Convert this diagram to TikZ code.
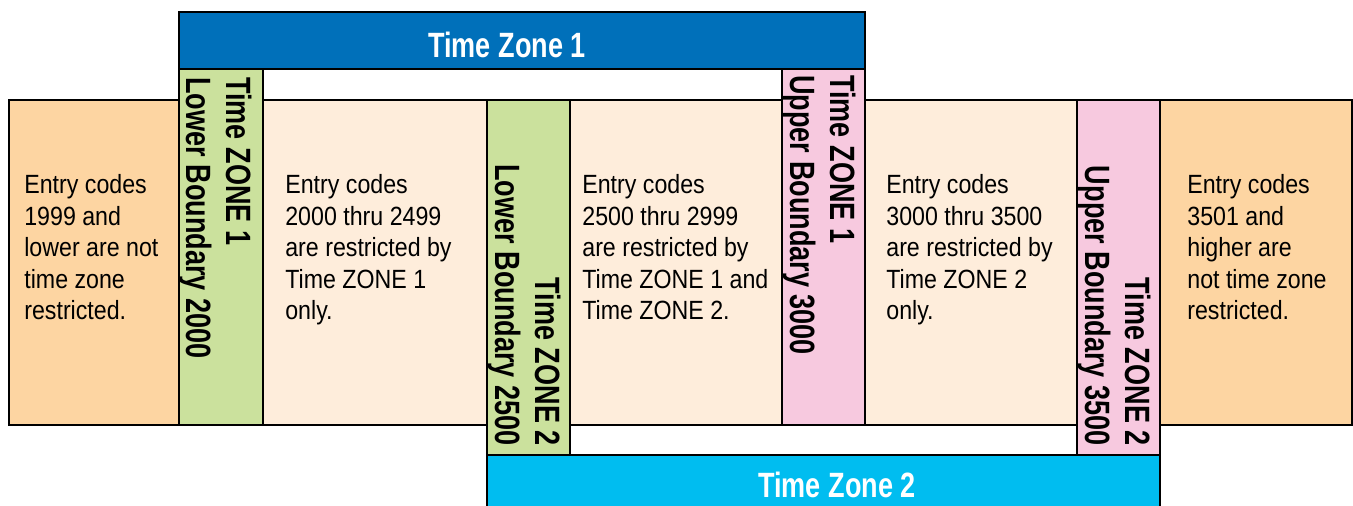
\documentclass[tikz,border=0pt]{standalone}
\usepackage{fontspec}
\setmainfont{Liberation Sans}[FakeStretch=0.88]
\newfontfamily\zonefont{Liberation Sans}[FakeStretch=0.77]
\usetikzlibrary{positioning}

\definecolor{zoneblue}{HTML}{0070BA}
\definecolor{zonecyan}{HTML}{00BDF0}
\definecolor{lowgreen}{HTML}{CBE19D}
\definecolor{uppink}{HTML}{F7C9DF}
\definecolor{outorange}{HTML}{FDD5A2}
\definecolor{inpeach}{HTML}{FEEDDB}

\tikzset{
  box/.style={draw=black, line width=1.5pt},
  entrytext/.style={inner sep=0pt, anchor=north west, align=left, font=\fontsize{15}{18}\selectfont},
  boundtext/.style={inner sep=0pt, rotate=-90, font=\zonefont\bfseries\fontsize{20}{22.5}\selectfont},
  zonetitle/.style={inner sep=0pt, anchor=base, text=white, font=\zonefont\bfseries\fontsize{20}{24}\selectfont}
}

\begin{document}
\begin{tikzpicture}[x=0.02cm, y=-0.02cm]
    \useasboundingbox (0,0) rectangle (1353,506);
    % Time Zone 1 bar
    \draw[box, fill=zoneblue] (179,12) rectangle (865,69);
    % outer boxes (not restricted)
    \draw[box, fill=outorange] (9,100) rectangle (179,425);
    \draw[box, fill=outorange] (1160,100) rectangle (1352,425);
    % inner boxes
    \draw[box, fill=inpeach] (263,100) rectangle (487,425);
    \draw[box, fill=inpeach] (570,100) rectangle (782,425);
    \draw[box, fill=inpeach] (865,100) rectangle (1077,425);
    % boundary columns
    \draw[box, fill=lowgreen] (179,69) rectangle (263,425);
    \draw[box, fill=uppink] (782,69) rectangle (865,425);
    \draw[box, fill=lowgreen] (487,100) rectangle (570,455);
    \draw[box, fill=uppink] (1077,100) rectangle (1160,455);
    % Time Zone 2 bar
    \draw[box, fill=zonecyan] (487,455) rectangle (1160,520);

    % titles
    \node[zonetitle] (zoneone) at (507,58) {Time Zone 1};
    \node[zonetitle] (zonetwo) at (837,498) {Time Zone 2};

    % boundary labels
    \node[boundtext, anchor=north west, align=left] (lowone) at (252,77) {Time ZONE 1\\Lower Boundary 2000};
    \node[boundtext, anchor=north west, align=left] (upone) at (856,75) {Time ZONE 1\\Upper Boundary 3000};
    \node[boundtext, anchor=north east, align=right] (lowtwo) at (561,446) {Time ZONE 2\\Lower Boundary 2500};
    \node[boundtext, anchor=north east, align=right] (uptwo) at (1151,446) {Time ZONE 2\\Upper Boundary 3500};

    % entry code texts
    \node[entrytext] (below) at (24,174) {Entry codes\\1999 and\\lower are not\\time zone\\restricted.};
    \node[entrytext] (onlyone) at (285,174) {Entry codes\\2000 thru 2499\\are restricted by\\Time ZONE 1\\only.};
    \node[entrytext] (both) at (582,174) {Entry codes\\2500 thru 2999\\are restricted by\\Time ZONE 1 and\\Time ZONE 2.};
    \node[entrytext] (onlytwo) at (886,174) {Entry codes\\3000 thru 3500\\are restricted by\\Time ZONE 2\\only.};
    \node[entrytext] (above) at (1187,174) {Entry codes\\3501 and\\higher are\\not time zone\\restricted.};
\end{tikzpicture}
\end{document}
